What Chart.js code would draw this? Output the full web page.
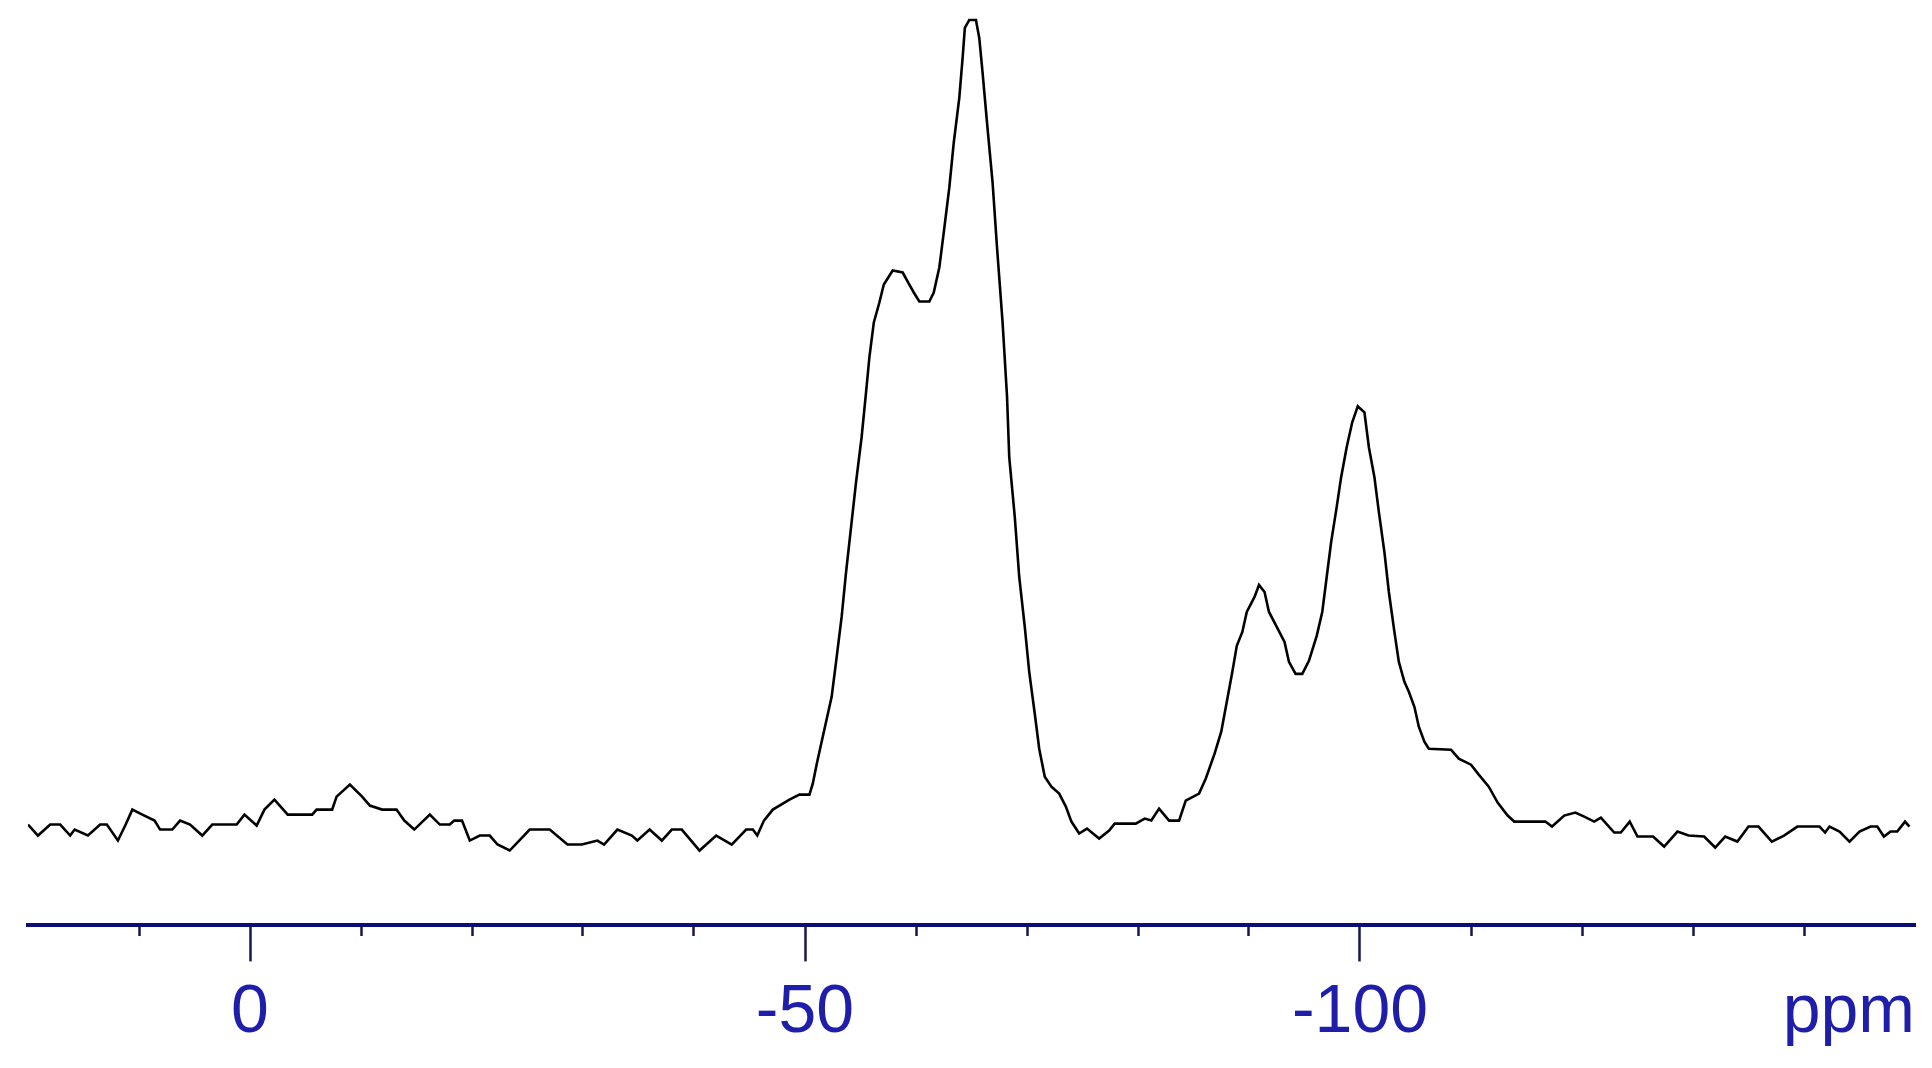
<!DOCTYPE html>
<html>
<head>
<meta charset="utf-8">
<title>Spectrum</title>
<script src="https://cdn.jsdelivr.net/npm/chart.js@4.4.1/dist/chart.umd.min.js"></script>
<style>
  html, body { margin: 0; padding: 0; background: #fff; }
  canvas { display: block; }
</style>
</head>
<body>
<canvas id="spectrum" width="1932" height="1068"></canvas>
<script>
// chemical shift (ppm) of each point
const shifts = [
  20.0, 19.1, 18.0, 17.1, 16.2, 15.8, 14.6, 13.5, 12.9, 11.9,
  11.2, 10.6, 9.7, 8.6, 8.1, 7.0, 6.3, 5.4, 4.3, 3.4,
  1.2, 0.5, -0.6, -1.3, -2.2, -3.4, -5.6, -6.0, -7.4, -7.8,
  -9.0, -10.1, -10.8, -11.9, -13.2, -13.9, -14.8, -16.2, -17.1, -18.0,
  -18.4, -19.1, -19.8, -20.7, -21.6, -22.3, -23.4, -25.2, -27.0, -28.6,
  -29.9, -31.3, -31.9, -33.1, -34.4, -34.9, -36.0, -37.1, -38.0, -38.9,
  -40.5, -42.0, -43.4, -44.7, -45.3, -45.7, -46.3, -47.1, -48.6, -49.5,
  -50.4, -50.7, -51.1, -51.5, -51.9, -52.4, -52.8, -53.3, -53.7, -54.2,
  -54.6, -55.1, -55.5, -55.8, -56.2, -56.7, -57.1, -57.9, -58.8, -59.4,
  -59.8, -60.3, -61.2, -61.6, -62.1, -62.5, -63.0, -63.4, -63.9, -64.2,
  -64.4, -64.8, -65.4, -65.7, -66.0, -66.4, -66.9, -67.3, -67.8, -68.2,
  -68.4, -68.9, -69.3, -69.8, -70.2, -70.7, -71.1, -71.6, -72.2, -72.9,
  -73.5, -74.0, -74.7, -75.4, -76.5, -77.4, -77.9, -79.8, -80.6, -81.2,
  -81.9, -82.8, -83.7, -84.3, -85.5, -86.1, -86.9, -87.5, -88.0, -88.5,
  -88.9, -89.4, -89.8, -90.5, -90.9, -91.4, -91.8, -92.5, -93.2, -93.6,
  -94.2, -94.8, -95.4, -96.1, -96.6, -97.0, -97.4, -97.9, -98.3, -98.8,
  -99.3, -99.8, -100.4, -100.8, -101.3, -101.7, -102.2, -102.6, -103.1, -103.5,
  -104.0, -104.4, -104.9, -105.3, -105.8, -106.2, -108.2, -108.9, -110.0, -110.7,
  -111.6, -112.4, -113.3, -113.9, -116.7, -117.3, -118.4, -119.4, -120.2, -121.1,
  -121.7, -122.9, -123.5, -124.3, -125.0, -126.4, -127.4, -128.6, -129.6, -131.0,
  -132.0, -132.9, -134.0, -135.0, -135.9, -136.7, -137.1, -138.2, -139.4, -141.4,
  -141.9, -142.3, -143.2, -144.1, -145.0, -146.0, -146.6, -147.2, -147.8, -148.4,
  -149.1, -149.5
];

// signal intensity (arbitrary units)
const intensities = [
  24, 13, 24, 24, 13, 19, 13, 24, 24, 8,
  24, 39, 34, 28, 19, 19, 28, 24, 13, 24,
  24, 34, 23, 39, 49, 34, 34, 39, 39, 52,
  64, 52, 43, 39, 39, 28, 19, 34, 24, 24,
  28, 28, 8, 13, 13, 4, -2, 19, 19, 4,
  4, 8, 4, 19, 13, 8, 19, 8, 19, 19,
  -2, 13, 4, 19, 19, 13, 28, 39, 49, 54,
  54, 65, 87, 107, 127, 152, 187, 232, 277, 327,
  367, 412, 457, 492, 527, 547, 565, 579, 577, 565,
  557, 548, 548, 557, 582, 617, 662, 707, 752, 792,
  822, 830, 830, 812, 777, 727, 667, 602, 527, 453,
  392, 332, 272, 222, 177, 135, 100, 72, 62, 55,
  42, 27, 15, 20, 10, 18, 25, 25, 30, 28,
  40, 28, 28, 48, 55, 70, 95, 117, 147, 177,
  203, 217, 237, 252, 264, 257, 237, 222, 207, 187,
  175, 175, 188, 213, 237, 272, 307, 342, 372, 402,
  427, 443, 437, 402, 372, 337, 297, 257, 217, 187,
  167, 157, 142, 122, 107, 100, 99, 90, 84, 74,
  62, 46, 33, 27, 27, 22, 33, 36, 32, 27,
  31, 16, 16, 27, 12, 12, 2, 17, 13, 12,
  1, 12, 7, 22, 22, 12, 7, 13, 22, 22,
  16, 22, 17, 7, 17, 22, 22, 12, 17, 17,
  27, 22
];

// axis range and labels
const shiftMin = -150;
const shiftMax = 20;
const tickStep = 10;
const labelledShifts = [0, -50, -100];
const unitLabel = 'ppm';

const axisColor = '#0c0c78';
const tickColor = '#16164e';
const labelColor = '#1e1eaa';
const labelFont = { family: '"Liberation Sans", Arial, sans-serif', size: 68 };
const majorTickLength = 36;
const labelPadding = 11;

// "ppm" sits at the right end of the axis, on the same line as the numbers
const unitPlugin = {
  id: 'unitLabel',
  afterDraw(chart) {
    const scale = chart.scales.x;
    const ctx = chart.ctx;
    ctx.save();
    ctx.font = labelFont.size + 'px ' + labelFont.family;
    ctx.fillStyle = labelColor;
    ctx.textAlign = 'right';
    ctx.textBaseline = 'middle';
    const y = scale.top + majorTickLength + labelPadding + labelFont.size * 1.2 / 2;
    ctx.fillText(unitLabel, scale.right, y);
    ctx.restore();
  }
};

const points = shifts.map((s, i) => ({ x: s, y: intensities[i] }));

new Chart(document.getElementById('spectrum'), {
  type: 'line',
  data: {
    datasets: [{
      data: points,
      borderColor: '#000',
      borderWidth: 2.6,
      pointRadius: 0,
      tension: 0,
      fill: false
    }]
  },
  options: {
    responsive: false,
    animation: false,
    layout: { padding: { left: 28, right: 17, top: 0, bottom: 3 } },
    plugins: {
      legend: { display: false },
      tooltip: { enabled: false }
    },
    scales: {
      x: {
        type: 'linear',
        reverse: true,
        min: shiftMin,
        max: shiftMax,
        border: { display: true, color: axisColor, width: 4 },
        grid: {
          display: true,
          drawOnChartArea: false,
          drawTicks: true,
          tickLength: majorTickLength,
          tickWidth: 2.5,
          tickColor: (c) => {
            const v = c.tick.value;
            return (v === shiftMin || v === shiftMax) ? 'rgba(0,0,0,0)' : tickColor;
          },
          // minor ticks: only the first few pixels of the tick are drawn
          tickBorderDash: (c) => (c.tick.value % 50 === 0 ? [] : [9, 100])
        },
        ticks: {
          stepSize: tickStep,
          autoSkip: false,
          maxRotation: 0,
          padding: labelPadding,
          color: labelColor,
          font: labelFont,
          callback: (v) => (labelledShifts.includes(v) ? String(v) : '')
        }
      },
      y: {
        display: false,
        min: -77,
        max: 850
      }
    }
  },
  plugins: [unitPlugin]
});
</script>
</body>
</html>
